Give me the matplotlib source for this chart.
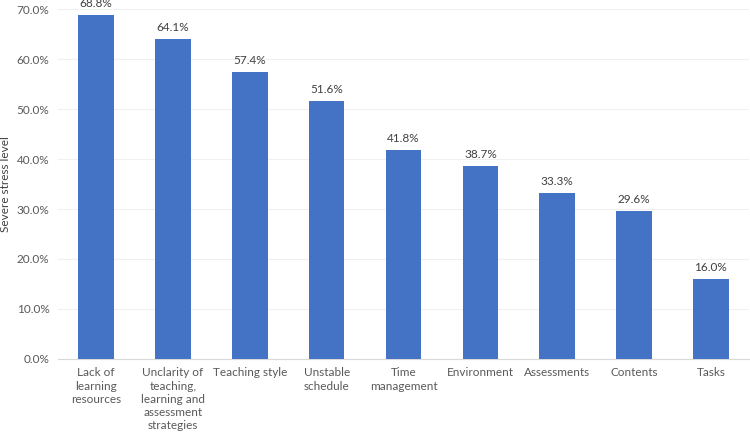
import matplotlib
matplotlib.use("Agg")
import matplotlib.pyplot as plt
from matplotlib.ticker import FuncFormatter, MultipleLocator

categories = ["Lack of\nlearning\nresources",
              "Unclarity of\nteaching,\nlearning and\nassessment\nstrategies",
              "Teaching style", "Unstable\nschedule", "Time\nmanagement",
              "Environment", "Assessments", "Contents", "Tasks"]
values = [68.8, 64.1, 57.4, 51.6, 41.8, 38.7, 33.3, 29.6, 16.0]

plt.rcParams['font.family'] = ['Lato', 'DejaVu Sans']
text_color = '#595959'

fig = plt.figure(figsize=(7.5, 4.33), dpi=100)
ax = fig.add_axes([0.077, 0.171, 0.922, 0.808])
x = list(range(len(categories)))
bars = ax.bar(x, values, width=0.46, color='#4472C4', zorder=3)
for xi, v in zip(x, values):
    ax.text(xi, v + 1.2, f"{v:.1f}%", ha='center', va='bottom', fontsize=8.5, color='#404040')

ax.set_xlim(-0.5, len(categories) - 0.5)
ax.set_ylim(0, 70)
ax.yaxis.set_major_locator(MultipleLocator(10))
ax.yaxis.set_major_formatter(FuncFormatter(lambda v, p: f"{v:.1f}%"))
ax.set_xticks(x)
ax.set_xticklabels(categories, fontsize=8.5, color=text_color, linespacing=1.25)
ax.tick_params(axis='y', labelsize=8.5, labelcolor=text_color, length=0, pad=6)
ax.tick_params(axis='x', length=0, pad=6)
ax.grid(axis='y', color='#F0F0F0', linewidth=0.8, zorder=0)
for s in ['top', 'right', 'left']:
    ax.spines[s].set_visible(False)
ax.spines['bottom'].set_color('#D9D9D9')
ax.set_ylabel("Severe stress level", fontsize=8.5, color='#404040', labelpad=6)
ax.yaxis.set_label_coords(-0.068, 0.5)
fig.savefig("out.png", dpi=100)
